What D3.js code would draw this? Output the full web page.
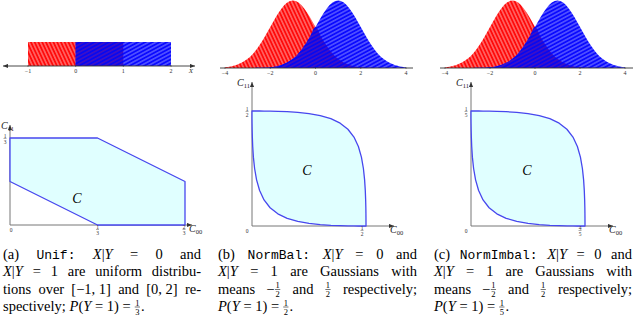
<!DOCTYPE html>
<html><head><meta charset="utf-8">
<script src="https://cdn.jsdelivr.net/npm/d3@7"></script>
<style>
body{margin:0;background:#fff}
svg{display:block}
text{white-space:pre}
.rm{font-family:"Liberation Serif","Times New Roman",serif;font-size:14.5px}
.it{font-family:"Liberation Serif","Times New Roman",serif;font-size:14.5px;font-style:italic}
.tt{font-family:"Liberation Mono","DejaVu Sans Mono",monospace;font-size:13px}
.fr{font-family:"Liberation Serif","Times New Roman",serif;font-size:8.5px}
.tk{font-family:"Liberation Serif",serif;font-size:6px;fill:#333}
.ax{font-family:"Liberation Serif",serif;font-style:italic;font-size:10px;fill:#222}
.sub{font-family:"Liberation Serif",serif;font-size:6.5px;fill:#222}
</style>
</head><body>
<svg id="chart" width="640" height="319"></svg>
<script>
// ---------------- data ----------------
// (a) uniform distributions
const unifTicks = [-1, 0, 1, 2];
const unifRedSupport = [-1, 1];
const unifBlueSupport = [0, 2];
const unifDensity = 0.5;
// (a) achievable region vertices (C00, C11)
const hexC00 = [0, 1/3, 2/3, 2/3, 1/3, 0];
const hexC11 = [1/3, 1/3, 1/6, 0, 0, 1/6];
// (b),(c) Gaussian class conditionals
const gaussTicks = [-4, -2, 0, 2, 4];
const gaussX = [-4,-3.75,-3.5,-3.25,-3,-2.75,-2.5,-2.25,-2,-1.75,-1.5,-1.25,-1,-0.75,-0.5,-0.25,0,0.25,0.5,0.75,1,1.25,1.5,1.75,2,2.25,2.5,2.75,3,3.25,3.5,3.75,4];
const gaussRed = [0.004,0.009,0.018,0.032,0.054,0.086,0.130,0.183,0.242,0.301,0.352,0.387,0.399,0.387,0.352,0.301,0.242,0.183,0.130,0.086,0.054,0.032,0.018,0.009,0.004,0.002,0.001,0,0,0,0,0,0];
const gaussBlue = [0,0,0,0,0,0,0.001,0.002,0.004,0.009,0.018,0.032,0.054,0.086,0.130,0.183,0.242,0.301,0.352,0.387,0.399,0.387,0.352,0.301,0.242,0.183,0.130,0.086,0.054,0.032,0.018,0.009,0.004];
// boundary of the region in normalised rates (true-negative rate, true-positive rate)
const rocTNR = [0,0.0013,0.0062,0.0228,0.0401,0.0668,0.1056,0.1587,0.2266,0.3085,0.4013,0.5,0.5987,0.6915,0.7734,0.8413,0.8944,0.9332,0.9599,0.9772,0.9878,0.9938,0.9970,0.9987,0.9994,0.9998,0.9999,1,1,1,1];
const rocTPR = [1,1,1,1,0.9999,0.9998,0.9994,0.9987,0.9970,0.9938,0.9878,0.9772,0.9599,0.9332,0.8944,0.8413,0.7734,0.6915,0.5987,0.5,0.4013,0.3085,0.2266,0.1587,0.1056,0.0668,0.0401,0.0228,0.0062,0.0013,0];
const priorB = 1/2;
const priorC = 1/5;

// ---------------- drawing ----------------
const svg = d3.select('#chart');
const defs = svg.append('defs');
function hatch(id, bg, lc, sp, ang, lw, op) {
  const p = defs.append('pattern').attr('id', id).attr('patternUnits', 'userSpaceOnUse')
    .attr('width', sp).attr('height', sp).attr('patternTransform', `rotate(${ang})`);
  p.append('rect').attr('width', sp).attr('height', sp).attr('fill', bg);
  p.append('line').attr('x1', sp/2).attr('y1', 0).attr('x2', sp/2).attr('y2', sp)
    .attr('stroke', lc).attr('stroke-width', lw).attr('stroke-opacity', op);
}
hatch('redPat', '#ff0a0a', '#ffffff', 3.4, -25, 0.8, 0.75);
hatch('bluePat', '#0a0aff', '#ffffff', 3.4, 62, 0.8, 0.6);
hatch('mixPat', '#0808f0', '#ff3030', 3.4, 62, 0.6, 0.6);

function marker(id) {
  defs.append('marker').attr('id', id).attr('markerUnits', 'userSpaceOnUse')
    .attr('markerWidth', 6).attr('markerHeight', 5).attr('refX', 5).attr('refY', 2.5)
    .attr('orient', 'auto-start-reverse')
    .append('path').attr('d', 'M0,0.4 L5,2.5 L0,4.6 z').attr('fill', '#333');
}
marker('arr');

// ---- (a) top: uniform ----
{
  const x = d3.scaleLinear([-1, 2], [28, 171]);
  const y = d3.scaleLinear([0, 0.5], [66, 42]);
  const g = svg.append('g');
  g.append('rect').attr('x', x(unifRedSupport[0])).attr('y', y(unifDensity))
    .attr('width', x(unifRedSupport[1]) - x(unifRedSupport[0])).attr('height', y(0) - y(unifDensity))
    .attr('fill', 'url(#redPat)');
  g.append('rect').attr('x', x(unifBlueSupport[0])).attr('y', y(unifDensity))
    .attr('width', x(unifBlueSupport[1]) - x(unifBlueSupport[0])).attr('height', y(0) - y(unifDensity))
    .attr('fill', 'url(#bluePat)');
  g.append('rect').attr('x', x(unifBlueSupport[0])).attr('y', y(unifDensity))
    .attr('width', x(unifRedSupport[1]) - x(unifBlueSupport[0])).attr('height', y(0) - y(unifDensity))
    .attr('fill', 'url(#mixPat)');
  g.append('line').attr('x1', 3).attr('x2', 195).attr('y1', y(0)).attr('y2', y(0))
    .attr('stroke', '#333').attr('stroke-width', 0.9)
    .attr('marker-start', 'url(#arr)').attr('marker-end', 'url(#arr)');
  unifTicks.forEach(t => {
    g.append('line').attr('x1', x(t)).attr('x2', x(t)).attr('y1', y(0) - 1).attr('y2', y(0) + 1).attr('stroke', '#333').attr('stroke-width', 0.5);
    g.append('text').attr('class', 'tk').attr('x', x(t)).attr('y', y(0) + 7).attr('text-anchor', 'middle').text(t < 0 ? '\u2212' + (-t) : t);
  });
  g.append('text').attr('class', 'tk').attr('x', 191).attr('y', y(0) + 7).attr('text-anchor', 'middle').style('font-style', 'italic').style('font-size', '7px').text('X');
}

// ---- (b),(c) top: gaussians ----
function gaussPanel(x0, x1, axL, axR) {
  const x = d3.scaleLinear([-4, 4], [x0, x1]);
  const y = d3.scaleLinear([0, 0.399], [68, 0.5]);
  const g = svg.append('g');
  const area = d3.area().x((d, i) => x(gaussX[i])).y0(y(0)).y1(d => y(d)).curve(d3.curveMonotoneX);
  g.append('path').datum(gaussRed).attr('d', area).attr('fill', 'url(#redPat)');
  g.append('path').datum(gaussBlue).attr('d', area).attr('fill', 'url(#bluePat)');
  g.append('path').datum(gaussRed.map((v, i) => Math.min(v, gaussBlue[i]))).attr('d', area).attr('fill', 'url(#mixPat)');
  g.append('line').attr('x1', axL).attr('x2', axR).attr('y1', y(0)).attr('y2', y(0))
    .attr('stroke', '#333').attr('stroke-width', 0.9);
  gaussTicks.forEach(t => {
    g.append('line').attr('x1', x(t)).attr('x2', x(t)).attr('y1', y(0) - 1).attr('y2', y(0) + 1).attr('stroke', '#333').attr('stroke-width', 0.5);
    g.append('text').attr('class', 'tk').attr('x', x(t)).attr('y', y(0) + 7).attr('text-anchor', 'middle').text(t < 0 ? '\u2212' + (-t) : t);
  });
}
gaussPanel(225, 406, 220, 413);
gaussPanel(445, 625, 440, 633);

// ---- fractions for small tick labels ----
function smallFrac(g, cx, cy, n, d, size) {
  const fs = size || 5.5;
  g.append('text').attr('class', 'tk').style('font-size', fs + 'px').attr('x', cx).attr('y', cy - 1).attr('text-anchor', 'middle').text(n);
  g.append('text').attr('class', 'tk').style('font-size', fs + 'px').attr('x', cx).attr('y', cy + fs - 0.5).attr('text-anchor', 'middle').text(d);
  g.append('line').attr('x1', cx - 1.5).attr('x2', cx + 1.5).attr('y1', cy).attr('y2', cy).attr('stroke', '#333').attr('stroke-width', 0.4);
}
function cLabel(g, x, y, sub) {
  const t = g.append('text').attr('x', x).attr('y', y);
  t.append('tspan').attr('class', 'ax').text('C');
  t.append('tspan').attr('class', 'sub').attr('dy', 2).text(sub);
}

// ---- bottom region panels ----
function regionPanel(opt) {
  const g = svg.append('g');
  const x = d3.scaleLinear([0, opt.xMax], [opt.ox, opt.xr]);
  const y = d3.scaleLinear([0, opt.yMax], [opt.oy, opt.yt]);
  g.append('line').attr('x1', opt.ox).attr('x2', opt.axX).attr('y1', opt.oy).attr('y2', opt.oy)
    .attr('stroke', '#777').attr('stroke-width', 1).attr('marker-end', 'url(#arr)');
  g.append('line').attr('x1', opt.ox).attr('x2', opt.ox).attr('y1', opt.oy).attr('y2', opt.axY)
    .attr('stroke', '#777').attr('stroke-width', 1).attr('marker-end', 'url(#arr)');
  const line = d3.line().x(d => x(d[0])).y(d => y(d[1]));
  g.append('path').attr('d', line(opt.pts) + 'Z').attr('fill', '#e0ffff')
    .attr('stroke', '#4747ee').attr('stroke-width', 1.3).attr('stroke-linejoin', 'round');
  g.append('text').attr('x', opt.cx).attr('y', opt.cy)
    .style('font-family', '"Liberation Serif",serif').style('font-style', 'italic').style('font-size', '14px')
    .attr('text-anchor', 'middle').text('C');
  g.append('text').attr('class', 'tk').style('font-size', '5.5px').attr('x', opt.ox + opt.zeroDx).attr('y', opt.oy + 7).attr('text-anchor', 'middle').text('0');
  opt.xTicks.forEach(t => smallFrac(g, x(t.v) + (t.dx || 0), opt.oy + 4.5, t.n, t.d));
  opt.yTicks.forEach(t => smallFrac(g, opt.ox - 5, y(t.v) + 0.5, t.n, t.d));
  cLabel(g, opt.c00x, opt.oy + 7, '00');
  cLabel(g, opt.c11x, opt.axY + 4, '11');
}
regionPanel({
  xMax: 2/3, yMax: 1/3, ox: 10, xr: 185, oy: 225, yt: 138, axX: 192, axY: 125,
  pts: hexC00.map((v, i) => [v, hexC11[i]]),
  cx: 77, cy: 203, zeroDx: 1,
  xTicks: [{v: 1/3, n: '1', d: '3'}, {v: 2/3, n: '2', d: '3', dx: -1}],
  yTicks: [{v: 1/3, n: '1', d: '3'}],
  c00x: 189, c11x: 1
});
function rocPts(p) {
  const up = rocTNR.map((t, i) => [(1 - p) * t, p * rocTPR[i]]);
  const lo = rocTNR.map((t, i) => [(1 - p) * (1 - t), p * (1 - rocTPR[i])]);
  return up.concat(lo);
}
regionPanel({
  xMax: 1/2, yMax: 1/2, ox: 252, xr: 366, oy: 226, yt: 111, axX: 394, axY: 82,
  pts: rocPts(priorB),
  cx: 307, cy: 175, zeroDx: -5,
  xTicks: [{v: 1/2, n: '1', d: '2', dx: -4}],
  yTicks: [{v: 1/2, n: '1', d: '2'}],
  c00x: 390, c11x: 237
});
regionPanel({
  xMax: 4/5, yMax: 1/5, ox: 471, xr: 585, oy: 226, yt: 111, axX: 613, axY: 82,
  pts: rocPts(priorC),
  cx: 527, cy: 175, zeroDx: -5,
  xTicks: [{v: 4/5, n: '4', d: '5', dx: -5}],
  yTicks: [{v: 1/5, n: '1', d: '5'}],
  c00x: 609, c11x: 456
});

// ---------------- captions ----------------
const rm = s => ({c: 'rm', s}), it = s => ({c: 'it', s}), tt = s => ({c: 'tt', s}), fr = (n, d) => ({f: [n, d]});
const XY = [it('X'), rm('|'), it('Y')];
const capA = [
  [[rm('(a)')], [tt('Unif:')], XY, [rm('=')], [rm('0')], [rm('and')]],
  [XY, [rm('=')], [rm('1')], [rm('are')], [rm('uniform')], [rm('distribu-')]],
  [[rm('tions')], [rm('over')], [rm('[\u22121, 1]')], [rm('and')], [rm('[0, 2]')], [rm('re-')]],
  [[rm('spectively;')], [it('P'), rm('('), it('Y'), rm(' = 1) = '), fr('1', '3'), rm('.')]]
];
const capB = [
  [[rm('(b)')], [tt('NormBal:')], XY, [rm('=')], [rm('0')], [rm('and')]],
  [XY, [rm('=')], [rm('1')], [rm('are')], [rm('Gaussians')], [rm('with')]],
  [[rm('means')], [rm('\u2212'), fr('1', '2')], [rm('and')], [fr('1', '2')], [rm('respectively;')]],
  [[it('P'), rm('('), it('Y'), rm(' = 1) = '), fr('1', '2'), rm('.')]]
];
const capC = [
  [[rm('(c)')], [tt('NormImbal:')], XY, [rm('=')], [rm('0')], [rm('and')]],
  [XY, [rm('=')], [rm('1')], [rm('are')], [rm('Gaussians')], [rm('with')]],
  [[rm('means')], [rm('\u2212'), fr('1', '2')], [rm('and')], [fr('1', '2')], [rm('respectively;')]],
  [[it('P'), rm('('), it('Y'), rm(' = 1) = '), fr('1', '5'), rm('.')]]
];
function renderLine(g, tokens, x0, x1, base, justify) {
  const groups = tokens.map(tok => {
    const tg = g.append('g');
    let x = 0;
    tok.forEach(p => {
      if (p.f) {
        const n = tg.append('text').attr('class', 'fr').attr('y', base - 5.5).attr('text-anchor', 'middle').text(p.f[0]);
        const d = tg.append('text').attr('class', 'fr').attr('y', base + 3.6).attr('text-anchor', 'middle').text(p.f[1]);
        const w = Math.max(n.node().getComputedTextLength(), d.node().getComputedTextLength()) + 2;
        n.attr('x', x + w / 2); d.attr('x', x + w / 2);
        tg.append('line').attr('x1', x + 0.5).attr('x2', x + w - 0.5).attr('y1', base - 4).attr('y2', base - 4)
          .attr('stroke', '#000').attr('stroke-width', 0.55);
        x += w + 0.5;
      } else {
        const t = tg.append('text').attr('class', p.c).attr('x', x).attr('y', base).text(p.s);
        x += t.node().getComputedTextLength();
      }
    });
    return {tg, w: x};
  });
  const total = d3.sum(groups, d => d.w);
  const gap = (justify && groups.length > 1) ? (x1 - x0 - total) / (groups.length - 1) : 3.7;
  let x = x0;
  groups.forEach(gr => { gr.tg.attr('transform', `translate(${x},0)`); x += gr.w + gap; });
}
const bases = [258.5, 276, 293.5, 311];
[[capA, 3, 201], [capB, 218, 417], [capC, 434, 632]].forEach(([cap, x0, x1]) => {
  const g = svg.append('g');
  cap.forEach((ln, i) => renderLine(g, ln, x0, x1, bases[i], i < cap.length - 1));
});
</script>
</body></html>
